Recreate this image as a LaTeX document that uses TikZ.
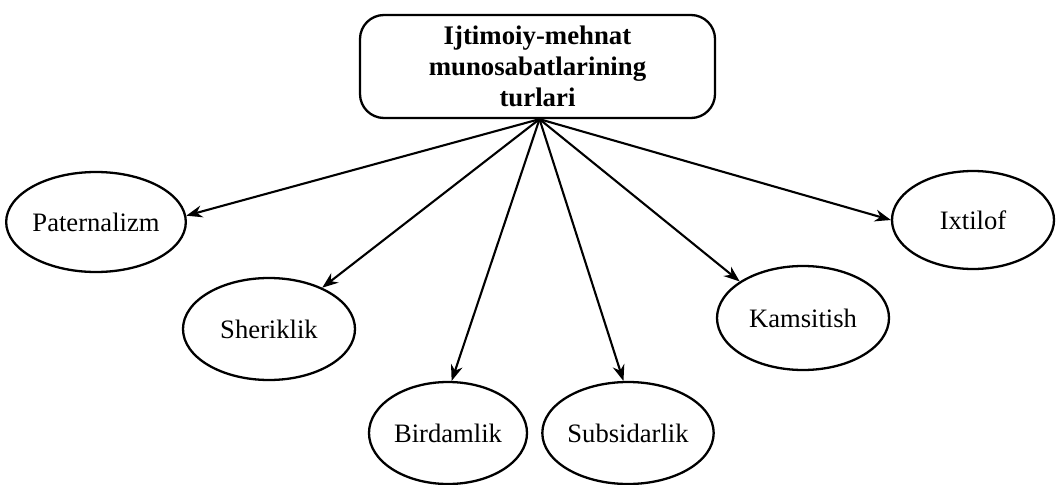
\documentclass[tikz,border=0pt]{standalone}
\usepackage{fontspec}
\setmainfont{Liberation Serif}
\usetikzlibrary{shapes.geometric,arrows.meta}
\tikzset{
  oval/.style={draw, ellipse, line width=2.3pt, inner sep=0pt,
    font=\fontsize{26.6}{31}\selectfont},
  headbox/.style={draw, rounded corners=24pt, line width=2.3pt, align=center,
    minimum width=355pt, minimum height=103pt, inner sep=0pt,
    font=\fontsize{26.8}{31}\selectfont\bfseries},
  link/.style={line width=2.1pt, -{Stealth[length=16pt,width=12pt]}}
}
\begin{document}
\begin{tikzpicture}[x=1pt,y=-1pt]
\useasboundingbox (0,0) rectangle (1056,484);
\node[headbox] (top) at (537.5,66.5) {\raisebox{-5pt}{\parbox{340pt}{\centering Ijtimoiy-mehnat\\ munosabatlarining\\ turlari}}};
\node[oval, minimum width=174pt, minimum height=100pt] (pat) at (96,222) {Paternalizm};
\node[oval, minimum width=172pt, minimum height=102pt] (she) at (269,329) {Sheriklik};
\node[oval, minimum width=158pt, minimum height=102pt] (bir) at (448,433) {Birdamlik};
\node[oval, minimum width=170pt, minimum height=102pt] (sub) at (628,433) {Subsidarlik};
\node[oval, minimum width=172pt, minimum height=104pt] (kam) at (803,318) {Kamsitish};
\node[oval, minimum width=162pt, minimum height=98pt] (ixt) at (973,220) {Ixtilof};
\coordinate (o) at ([xshift=2pt]top.south);
\draw[link] (o) -- (pat.4);
\draw[link] (o) -- (she);
\draw[link] (o) -- (bir.86);
\draw[link] (o) -- (sub.95);
\draw[link] (o) -- (kam.150);
\draw[link] (o) -- (ixt.west);
\end{tikzpicture}
\end{document}
